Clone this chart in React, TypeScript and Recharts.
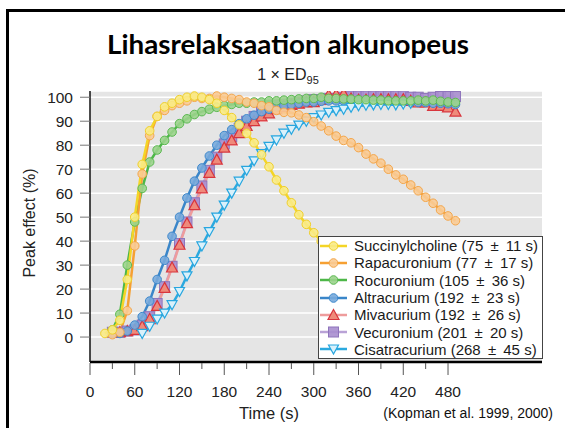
import { LineChart, Line, XAxis, YAxis, CartesianGrid, Legend } from 'recharts';

// time in seconds, one sample every 10 s
const times = [
  20, 30, 40, 50, 60, 70, 80, 90, 100, 110, 120, 130, 140, 150, 160, 170,
  180, 190, 200, 210, 220, 230, 240, 250, 260, 270, 280, 290, 300, 310, 320, 330,
  340, 350, 360, 370, 380, 390, 400, 410, 420, 430, 440, 450, 460, 470, 480, 490,
];

const succinylcholine = [
  1.5, 3, 7, 24, 50, 72, 86, 92, 96, 97.5, 99, 100, 100.5, 100, 99, 97.5,
  94.5, 91.5, 88.5, 85, 81, 76, 71, 65.5, 61, 56, 51, 47, 43.5, 40, 36.5, 33,
  null, null, null, null, null, null, null, null, null, null, null, null, null, null, null, null,
];
const rapacuronium = [
  null, 1, 2, 11, 38, 68, 84, 92, 94.5, 96.5, 97.5, 98.5, 100, 99.5, 99.5, 100.5,
  100, 99.5, 99, 98, 97.5, 96.5, 96, 94.5, 93.7, 93.5, 92.6, 91.5, 89.8, 88, 86, 83.8,
  82, 81, 79, 76.3, 74.3, 72.5, 70, 67.6, 65.8, 63.4, 61, 58.3, 55.8, 53, 50.5, 48.5,
];
const rocuronium = [
  null, 3, 9.5, 30, 48, 62, 73, 78, 82, 85.5, 89, 91, 92.8, 94, 95, 95.8,
  96.5, 97, 97.5, 97.5, 98, 98, 98.5, 98.5, 98.8, 99, 99.3, 99.5, 99.5, 100, 99.5, 99.5,
  99.3, 99.2, 99, 99, 98.8, 98.8, 98.5, 98.5, 98.5, 98.5, 98.8, 98.5, 98.8, 98.3, 98, 97.8,
];
const altracurium = [
  null, 1.5, 1.5, 2.5, 5, 8.5, 15, 24, 32, 42, 50, 58, 65, 70.5, 75.5, 80,
  84, 86.5, 89, 91, 92.5, 94, 95, 96, 96.5, 97, 97.5, 98, 98, 98.3, 98.5, 98.5,
  98.5, 98.5, 98.5, 98.5, 98.5, 98.3, 98.3, 98, 98, 97.9, 97.8, 97.8, 97.5, 97.5, 97.3, 97,
];
const mivacurium = [
  null, 2, 2, 2.5, 3, 4.5, 7.5, 13, 20.5, 29, 38.5, 47.5, 55, 62, 68.5, 74,
  79, 82, 85, 88, 90, 92, 93.3, 95, 96, 96.8, 97.3, 97.8, 98, 99, 101, 101.2,
  101.4, 99.5, 99, 99, 99.2, 99.2, 99.2, 99.2, 99.2, 98.5, 97.8, 97.8, 96.4, 96.4, 95.8, 94,
];
const vecuronium = [
  null, 2, 2, 2.5, 3, 5, 8.5, 14, 21, 29.5, 39, 48, 56, 63, 69.5, 75,
  80.5, 83.5, 87, 90, 92, 94, 95.5, 96.5, 97, 97.5, 98, 98.5, 99, 99, 99.5, 99.5,
  100, 100.5, 100.5, 100.5, 100.5, 100.5, 100.5, 100.5, 100.5, 100, 100, 99.5, 100, 100.3, 100.3, 100.3,
];
const cisatracurium = [
  null, null, null, null, null, 1.5, 4.5, 7.5, 10, 13.5, 19, 25.5, 31.5, 38, 44, 50,
  55, 60, 65, 69.5, 73.5, 76.5, 79.5, 82.2, 85, 86.6, 88.4, 90, 91.5, 92.6, 93.7, 94.4,
  95, 95.8, 96.4, 96.6, 96.8, 97, 97, 96.8, 97.2, 97.5, null, null, null, null, null, null,
];

const xTicks = [0, 30, 60, 90, 120, 150, 180, 210, 240, 270, 300, 330, 360, 390, 420, 450, 480];
const yTicks = [0, 10, 20, 30, 40, 50, 60, 70, 80, 90, 100];

type Shape = 'circle' | 'up' | 'square' | 'down';

// legend order
const series: { key: string; label: string; color: string; fill: string; stroke: string; shape: Shape }[] = [
  { key: 'succ', label: 'Succinylcholine (75\u2009 ± \u200911 s)', color: '#F4D526', fill: '#FAEB86', stroke: '#F0CF2A', shape: 'circle' },
  { key: 'rapa', label: 'Rapacuronium (77\u2009 ± \u200917 s)', color: '#F6A032', fill: '#F9CB95', stroke: '#F4A64A', shape: 'circle' },
  { key: 'rocu', label: 'Rocuronium (105\u2009 ± \u200936 s)', color: '#4DB748', fill: '#9BD38C', stroke: '#5CBA52', shape: 'circle' },
  { key: 'altra', label: 'Altracurium (192\u2009 ± \u200923 s)', color: '#3A86C9', fill: '#78AADC', stroke: '#3F89CC', shape: 'circle' },
  { key: 'miva', label: 'Mivacurium (192\u2009 ± \u200926 s)', color: '#EE9C9C', fill: '#EF8A7A', stroke: '#D8353D', shape: 'up' },
  { key: 'vecu', label: 'Vecuronium (201\u2009 ± \u200920 s)', color: '#B9A2D6', fill: '#A98ECF', stroke: '#8E74BB', shape: 'square' },
  { key: 'cisa', label: 'Cisatracurium (268\u2009 ± \u200945 s)', color: '#2BA9DF', fill: '#D9F1FB', stroke: '#27A6DF', shape: 'down' },
];

// drawing order (last on top)
const drawOrder = ['vecu', 'miva', 'altra', 'cisa', 'rocu', 'rapa', 'succ'];

const data = times.map((t, i) => ({
  t,
  succ: succinylcholine[i],
  rapa: rapacuronium[i],
  rocu: rocuronium[i],
  altra: altracurium[i],
  miva: mivacurium[i],
  vecu: vecuronium[i],
  cisa: cisatracurium[i],
}));

const FONT = '"Liberation Sans", Arial, Helvetica, sans-serif';

function Marker({ shape, x, y, fill, stroke }: { shape: Shape; x: number; y: number; fill: string; stroke: string }) {
  if (shape === 'square') {
    return <rect x={x - 5} y={y - 5} width={10} height={10} fill={fill} stroke={stroke} strokeWidth={1} fillOpacity={0.9} />;
  }
  if (shape === 'up') {
    return (
      <polygon
        points={`${x},${y - 5.5} ${x + 5.5},${y + 4.5} ${x - 5.5},${y + 4.5}`}
        fill={fill}
        stroke={stroke}
        strokeWidth={1.2}
      />
    );
  }
  if (shape === 'down') {
    return (
      <polygon
        points={`${x - 5},${y - 4} ${x + 5},${y - 4} ${x},${y + 5}`}
        fill={fill}
        stroke={stroke}
        strokeWidth={1.2}
      />
    );
  }
  return <circle cx={x} cy={y} r={4.3} fill={fill} stroke={stroke} strokeWidth={1} fillOpacity={0.9} />;
}

const makeDot = (shape: Shape, fill: string, stroke: string) => (p: any) => {
  const { cx, cy, index, value } = p;
  if (cx == null || cy == null || value == null || Number.isNaN(cy)) return <g key={`d${index}`} />;
  return (
    <g key={`d${index}`}>
      <Marker shape={shape} x={cx} y={cy} fill={fill} stroke={stroke} />
    </g>
  );
};

function TimeTick(props: any) {
  const { x, y, payload } = props;
  const major = payload.value % 60 === 0;
  return (
    <g>
      <line x1={x} x2={x} y1={y + 1} y2={y + (major ? 13 : 7)} stroke="#555" strokeWidth={1} />
      {major && (
        <text x={x} y={y + 35} textAnchor="middle" fontSize={15.5} fontFamily={FONT} fill="#222">
          {payload.value}
        </text>
      )}
    </g>
  );
}

function LegendBox() {
  return (
    <div
      style={{
        background: '#fff',
        border: '1px solid #444',
        boxSizing: 'border-box',
        width: 225,
        height: 123,
        padding: '0 0 0 1px',
        fontFamily: FONT,
        fontSize: 15,
        color: '#1a1a1a',
      }}
    >
      {series.map((s) => (
        <div key={s.key} style={{ display: 'flex', alignItems: 'center', height: 17.3, whiteSpace: 'nowrap' }}>
          <svg width={27} height={14} style={{ flex: 'none' }}>
            <line x1={0} x2={27} y1={7} y2={7} stroke={s.color} strokeWidth={2.5} />
            <Marker shape={s.shape} x={13.5} y={7} fill={s.fill} stroke={s.stroke} />
          </svg>
          <span style={{ marginLeft: 7 }}>{s.label}</span>
        </div>
      ))}
    </div>
  );
}

export default function App() {
  return (
    <div
      style={{
        position: 'fixed',
        left: 0,
        top: 0,
        width: 565,
        height: 428,
        overflow: 'hidden',
        background: '#fff',
      }}
    >
      <div
        style={{
          position: 'absolute',
          left: 6,
          top: 9,
          width: 620,
          height: 500,
          border: '3px solid #000',
        }}
      />
      <div style={{ position: 'absolute', left: 0, top: 0 }}>
        <LineChart width={565} height={428} data={data} margin={{ top: 91, right: 23, bottom: 36, left: 30 }}>
          <CartesianGrid vertical={false} stroke="#fff" strokeWidth={1.5} fill="#E5E5E5" />
          <XAxis
            dataKey="t"
            type="number"
            domain={[0, 606]}
            ticks={xTicks}
            interval={0}
            allowDataOverflow
            height={30}
            tickSize={0}
            tickMargin={0}
            tickLine={false}
            axisLine={{ stroke: '#000', strokeWidth: 2.5 }}
            tick={<TimeTick />}
          />
          <YAxis
            type="number"
            domain={[-10.4, 102.6]}
            ticks={yTicks}
            interval={0}
            allowDataOverflow
            width={60}
            tickSize={10}
            tickMargin={7}
            tickLine={{ stroke: '#777', strokeWidth: 1 }}
            axisLine={{ stroke: '#111', strokeWidth: 1.5 }}
            tick={{ fontSize: 15.5, fontFamily: FONT, fill: '#222' }}
          />
          <Legend
            layout="vertical"
            align="center"
            verticalAlign="middle"
            wrapperStyle={{ left: 318, top: 236, width: 225, height: 123 }}
            content={() => <LegendBox />}
          />
          {drawOrder.map((k) => {
            const s = series.find((x) => x.key === k)!;
            return (
              <Line
                key={k}
                type="linear"
                dataKey={k}
                name={s.label}
                stroke={s.color}
                strokeWidth={2.5}
                dot={makeDot(s.shape, s.fill, s.stroke)}
                activeDot={false}
                isAnimationActive={false}
              />
            );
          })}
        </LineChart>
      </div>
      <svg
        width={565}
        height={428}
        style={{ position: 'absolute', left: 0, top: 0, pointerEvents: 'none' }}
      >
        <text
          x={288}
          y={54}
          textAnchor="middle"
          fontFamily='Lato, "Open Sans", sans-serif'
          fontWeight={700}
          fontSize={27}
          textLength={362}
          lengthAdjust="spacingAndGlyphs"
          fill="#000"
        >
          Lihasrelaksaation alkunopeus
        </text>
        <text x={288} y={80} textAnchor="middle" fontFamily={FONT} fontSize={16} fill="#222">
          1 × ED<tspan fontSize={11} dy={4}>95</tspan>
        </text>
        <text
          transform="translate(35,223) rotate(-90)"
          textAnchor="middle"
          fontFamily={FONT}
          fontSize={16}
          fill="#222"
        >
          Peak effect (%)
        </text>
        <text x={269} y={419} textAnchor="middle" fontFamily={FONT} fontSize={16.5} fill="#222">
          Time (s)
        </text>
        <text x={553} y={418} textAnchor="end" fontFamily={FONT} fontSize={14} fill="#111">
          (Kopman et al. 1999, 2000)
        </text>
      </svg>
    </div>
  );
}
